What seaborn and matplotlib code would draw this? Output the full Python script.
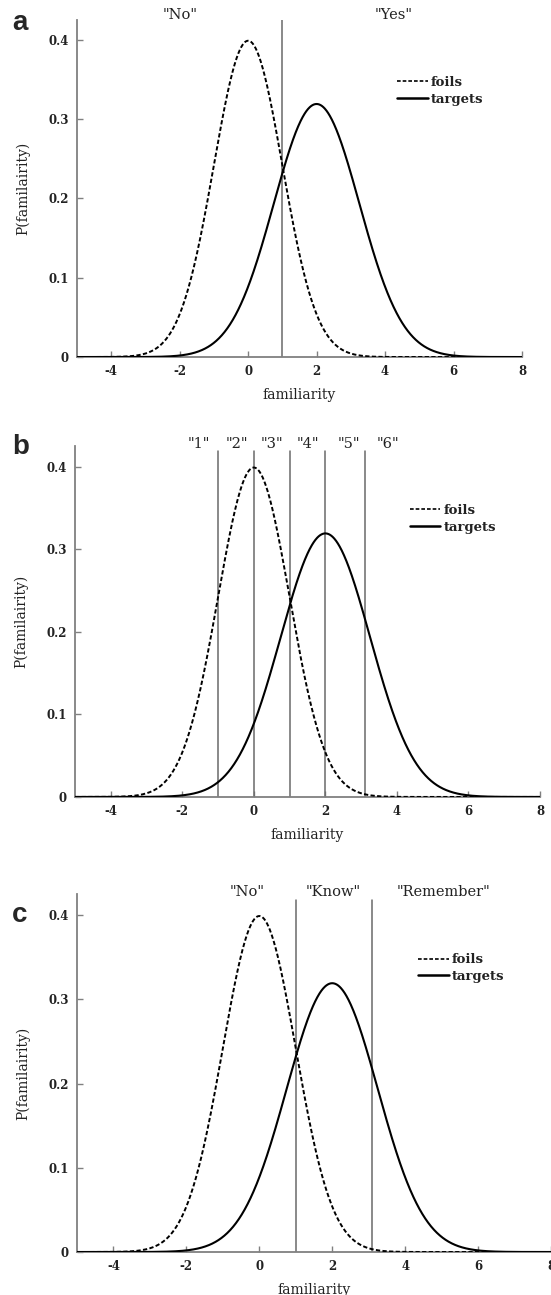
import numpy as np
import pandas as pd
import matplotlib
matplotlib.use("Agg")
import matplotlib.pyplot as plt
import seaborn as sns
from matplotlib.lines import Line2D
from matplotlib.transforms import blended_transform_factory

# Signal-detection model: familiarity distributions (mean, sd) per item type
item_types = ["foils", "targets"]
item_means = [0.0, 2.0]
item_sds = [1.0, 1.25]

# Decision criteria for each response scheme
criteria_a = [1.0]
criteria_b = [-1.0, 0.0, 1.0, 2.0, 3.1]
criteria_c = [1.0, 3.1]

# Response labels and where they sit along the familiarity axis
responses_a = ['"No"', '"Yes"']
responses_a_x = [-1.98, 4.24]
responses_b = ['"1"', '"2"', '"3"', '"4"', '"5"', '"6"']
responses_b_x = [-1.55, -0.47, 0.5, 1.52, 2.66, 3.75]
responses_c = ['"No"', '"Know"', '"Remember"']
responses_c_x = [-0.33, 2.03, 5.05]

x_ticks = [-4, -2, 0, 2, 4, 6, 8]
y_ticks = [0, 0.1, 0.2, 0.3, 0.4]
y_tick_labels = ["0", "0.1", "0.2", "0.3", "0.4"]

x_range = (-5, 8)
y_range = (0, 0.425)

sns.set_style("ticks")
plt.rcParams["font.family"] = ["DejaVu Serif"]

# density curves over the familiarity axis
grid = np.linspace(x_range[0], x_range[1], 1301)
frames = []
for name, m, s in zip(item_types, item_means, item_sds):
    dens = np.exp(-(grid - m) ** 2 / (2 * s ** 2)) / (s * np.sqrt(2 * np.pi))
    frames.append(pd.DataFrame({"familiarity": grid, "density": dens, "item": name}))
df = pd.concat(frames, ignore_index=True)

fig = plt.figure(figsize=(5.51, 12.95), dpi=100)

panels = [
    dict(letter="a", rect=[0.1397, 0.7243, 0.8076, 0.2602], crit=criteria_a,
         crit_top=1.0, labels=responses_a, labels_x=responses_a_x, label_y=1.015,
         letter_xy=(0.022, 0.9925)),
    dict(letter="b", rect=[0.1361, 0.3846, 0.8439, 0.2710], crit=criteria_b,
         crit_top=0.986, labels=responses_b, labels_x=responses_b_x, label_y=1.006,
         letter_xy=(0.022, 0.665)),
    dict(letter="c", rect=[0.1397, 0.0332, 0.8603, 0.2764], crit=criteria_c,
         crit_top=0.983, labels=responses_c, labels_x=responses_c_x, label_y=1.005,
         letter_xy=(0.022, 0.3035)),
]

spine_gray = "#808080"
line_gray = "#6a6a6a"

for p in panels:
    ax = fig.add_axes(p["rect"])
    for c in p["crit"]:
        ax.axvline(c, ymin=0, ymax=p["crit_top"], color=line_gray, lw=1.1, zorder=1)

    sns.lineplot(data=df[df["item"] == "foils"], x="familiarity", y="density",
                 color="black", lw=1.4, ax=ax, legend=False, zorder=3)
    ax.lines[-1].set_linestyle((0, (2.2, 1.2)))
    sns.lineplot(data=df[df["item"] == "targets"], x="familiarity", y="density",
                 color="black", lw=1.5, ax=ax, legend=False, zorder=3)

    ax.set_xlim(*x_range)
    ax.set_ylim(*y_range)
    ax.set_xticks(x_ticks)
    ax.set_xticklabels([str(t) for t in x_ticks])
    ax.set_yticks(y_ticks)
    ax.set_yticklabels(y_tick_labels)
    ax.tick_params(axis="both", direction="in", length=4, width=1, color=spine_gray,
                   labelsize=8.5, labelcolor="#222222")
    ax.tick_params(axis="x", pad=6)
    ax.tick_params(axis="y", pad=6)
    for lab in ax.get_xticklabels() + ax.get_yticklabels():
        lab.set_fontweight("bold")

    sns.despine(ax=ax)
    for side in ("left", "bottom"):
        ax.spines[side].set_color(spine_gray)
        ax.spines[side].set_linewidth(1.3)

    ax.set_xlabel("familiarity", fontsize=10, labelpad=7, color="#222222")
    ax.set_ylabel("P(familairity)", fontsize=10, labelpad=13, color="#222222")

    trans = blended_transform_factory(ax.transData, ax.transAxes)
    for txt, xv in zip(p["labels"], p["labels_x"]):
        ax.text(xv, p["label_y"], txt, transform=trans, ha="center", va="center",
                fontsize=10.5, color="#222222", clip_on=False)

    handles = [Line2D([], [], color="black", lw=1.2, linestyle=(0, (2.2, 1.2))),
               Line2D([], [], color="black", lw=1.8)]
    leg = ax.legend(handles, item_types, loc="upper left",
                    bbox_to_anchor=(0.72, 0.835), frameon=False, borderpad=0,
                    borderaxespad=0, handlelength=2.3, handletextpad=0.25,
                    labelspacing=0.3, prop={"size": 9.5, "weight": "bold"})
    for t in leg.get_texts():
        t.set_color("#222222")

    fig.text(p["letter_xy"][0], p["letter_xy"][1], p["letter"], ha="left", va="top",
             fontsize=20, fontweight="bold", family=["Liberation Sans", "DejaVu Sans"])

fig.savefig("out.png", dpi=100)
